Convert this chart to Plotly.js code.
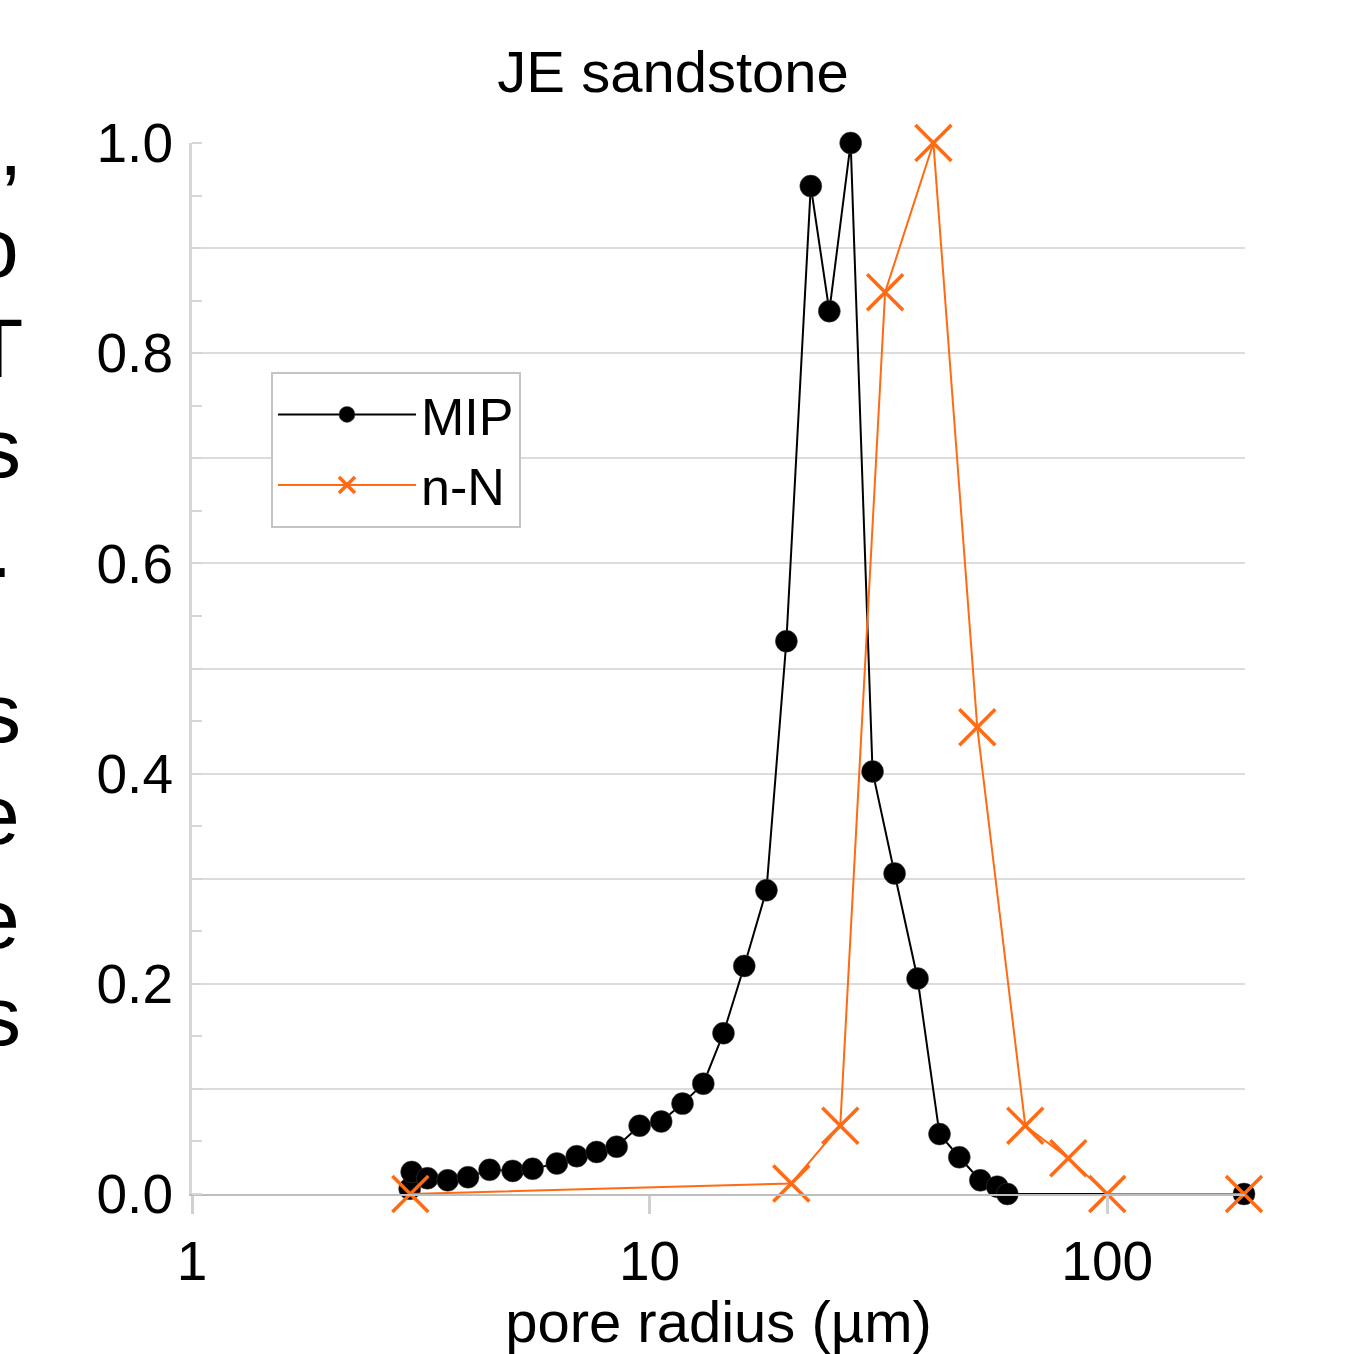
<!DOCTYPE html>
<html>
<head>
<meta charset="utf-8">
<script src="https://cdn.plot.ly/plotly-3.0.1.min.js"></script>
<style>html,body{margin:0;padding:0;background:#fff;}#chart{width:1357px;height:1354px;}</style>
</head>
<body>
<div id="chart"></div>
<script>
// ---- data ----
const mipX = [2.99, 3.02, 3.27, 3.62, 4.01, 4.47, 5.02, 5.55, 6.27, 6.93, 7.66, 8.47, 9.51, 10.6, 11.8, 13.1, 14.5, 16.1, 18.0, 19.9, 22.5, 24.7, 27.5, 30.7, 34.3, 38.5, 43.0, 47.5, 52.8, 57.5, 60.5, 199];
const mipY = [0.005, 0.021, 0.015, 0.013, 0.016, 0.023, 0.022, 0.024, 0.029, 0.036, 0.040, 0.045, 0.065, 0.069, 0.086, 0.105, 0.153, 0.217, 0.289, 0.526, 0.959, 0.840, 1.0, 0.402, 0.305, 0.205, 0.057, 0.035, 0.013, 0.007, 0.0, 0.0];
const nnX = [3.0, 20.4, 26.1, 32.7, 41.7, 52.0, 66.2, 82.2, 100, 199];
const nnY = [0, 0.010, 0.065, 0.858, 1.0, 0.444, 0.065, 0.034, 0, 0];
const seriesNames = ['MIP', 'n-N'];
const xTickVals = [1, 10, 100];
const xTickText = ['1', '10', '100'];
const yTickVals = [0, 0.1, 0.2, 0.3, 0.4, 0.5, 0.6, 0.7, 0.8, 0.9, 1.0];
const yTickText = ['0.0', '', '0.2', '', '0.4', '', '0.6', '', '0.8', '', '1.0'];
const chartTitle = 'JE sandstone';
const xTitle = 'pore radius (µm)';
const sideFragments = [',', 'o', 'T', 's', '.', 's', 'e', 'e', 's'];

// ---- layout helpers ----
const FONT = 'Liberation Sans, Arial, sans-serif';
const fragBaselines = [175, 277, 377, 477, 577, 742, 844, 948, 1045];
const fragRight = [24, 21, 25, 23, 14, 23, 22, 22, 23];
const plotTop = 143, plotBottom = 1194, plotLeft = 192;
const annotations = sideFragments.map((t, i) => ({
  text: t, xref: 'paper', yref: 'paper', x: 0, xanchor: 'right',
  xshift: fragRight[i] - plotLeft,
  y: (plotBottom - (fragBaselines[i] - 29)) / (plotBottom - plotTop), yanchor: 'middle',
  showarrow: false, font: {family: FONT, size: 84, color: '#000'}
}));

const traces = [
  {
    x: mipX, y: mipY, name: seriesNames[0], type: 'scatter', mode: 'lines+markers',
    line: {color: '#000000', width: 2},
    marker: {symbol: 'circle', size: 22, color: '#000000', line: {color: '#444', width: 0.5}},
    cliponaxis: false
  },
  {
    x: nnX, y: nnY, name: seriesNames[1], type: 'scatter', mode: 'lines+markers',
    line: {color: '#ff6a13', width: 2},
    marker: {symbol: 'x-thin-open', size: 36, color: '#ff6a13', line: {color: '#ff6a13', width: 3.5}},
    cliponaxis: false
  }
];

const layout = {
  width: 1357, height: 1354,
  margin: {l: 192, r: 112, t: 143, b: 160},
  paper_bgcolor: '#ffffff', plot_bgcolor: '#ffffff',
  font: {family: FONT, color: '#000'},
  title: {text: chartTitle, font: {family: FONT, size: 58, color: '#000'}, x: 0.496, xref: 'container', y: 0.947, yref: 'container', yanchor: 'middle'},
  xaxis: {
    type: 'log', range: [0, Math.log10(200)],
    tickvals: xTickVals, ticktext: xTickText,
    ticks: 'outside', ticklen: 18, tickwidth: 3, tickcolor: '#d0d0d0',
    showgrid: false, zeroline: false,
    showline: true, linecolor: '#bdbdbd', linewidth: 2,
    tickfont: {family: FONT, size: 55, color: '#000'},
    title: {text: xTitle, font: {family: FONT, size: 58, color: '#000'}, standoff: 10}
  },
  yaxis: {
    range: [0, 1.0],
    tickvals: yTickVals, ticktext: yTickText,
    ticks: '', showgrid: true, gridcolor: '#dcdcdc', gridwidth: 2,
    zeroline: false, showline: true, linecolor: '#d6d6d6', linewidth: 3,
    tickfont: {family: FONT, size: 55, color: '#000'},
    ticklabelstandoff: 5,
    minor: {dtick: 0.05, tick0: 0, ticks: 'inside', ticklen: 10, tickwidth: 2, tickcolor: '#d6d6d6', showgrid: false}
  },
  showlegend: true,
  legend: {
    x: 0.075, y: 0.782, xanchor: 'left', yanchor: 'top',
    bgcolor: '#ffffff', bordercolor: '#c4c4c4', borderwidth: 2,
    font: {family: FONT, size: 52, color: '#000'},
    itemwidth: 138, tracegroupgap: 0
  },
  annotations: annotations
};

Plotly.newPlot('chart', traces, layout, {displayModeBar: false, staticPlot: true});
</script>
</body>
</html>
